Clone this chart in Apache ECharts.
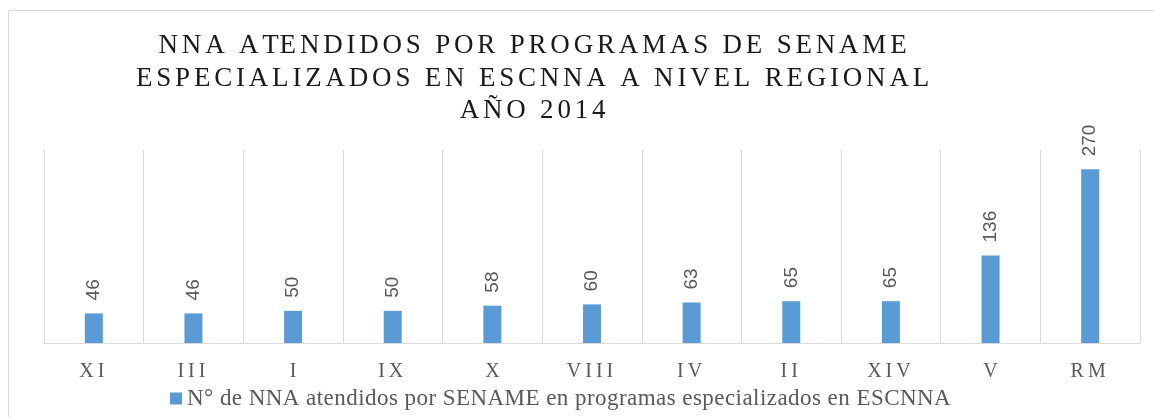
<!DOCTYPE html>
<html>
<head>
<meta charset="utf-8">
<script src="https://cdn.jsdelivr.net/npm/echarts/dist/echarts.min.js"></script>
<style>
  html, body { margin: 0; padding: 0; background: #fff; }
  #chart { width: 1154px; height: 417px; }
</style>
</head>
<body>
<div id="chart"></div>
<script>
// ---- data ----
const titleLines = [
  'NNA ATENDIDOS POR PROGRAMAS DE SENAME',
  'ESPECIALIZADOS EN ESCNNA A NIVEL REGIONAL',
  'AÑO 2014'
];
const categories = ['XI', 'III', 'I', 'IX', 'X', 'VIII', 'IV', 'II', 'XIV', 'V', 'RM'];
const seriesName = 'N° de NNA atendidos por SENAME en programas especializados en ESCNNA';
const values = [46, 46, 50, 50, 58, 60, 63, 65, 65, 136, 270];

// letter-spaced drawing for the title lines, category labels and legend text
(function () {
  const P = CanvasRenderingContext2D.prototype;
  const orig = P.fillText;
  function spacingFor(ctx, t) {
    if (titleLines.indexOf(t) >= 0) return 3.8;
    if (categories.indexOf(t) >= 0 && /Serif/.test(ctx.font)) return 4;
    if (t === seriesName) return 0.45;
    return 0;
  }
  P.fillText = function (t, x, y, m) {
    const s = String(t);
    const ls = spacingFor(this, s);
    if (!ls || s.length < 2) {
      return (m === undefined) ? orig.call(this, t, x, y) : orig.call(this, t, x, y, m);
    }
    const chars = Array.from(s);
    const align = this.textAlign;
    const total = this.measureText(s).width + ls * chars.length;
    let start = x;
    if (align === 'center') start = x - total / 2;
    else if (align === 'right' || align === 'end') start = x - total;
    this.textAlign = 'left';
    let prefix = '';
    for (let i = 0; i < chars.length; i++) {
      const off = this.measureText(prefix).width + ls * i;
      orig.call(this, chars[i], start + off, y);
      prefix += chars[i];
    }
    this.textAlign = align;
  };
})();

const SERIF = 'Liberation Serif';
const chart = echarts.init(document.getElementById('chart'), null, { renderer: 'canvas' });
chart.setOption({
  animation: false,
  backgroundColor: '#ffffff',
  graphic: [{
    type: 'rect',
    silent: true,
    shape: { x: 8.5, y: 10.5, width: 1400, height: 600 },
    style: { fill: 'none', stroke: '#d9d9d9', lineWidth: 1 }
  }],
  title: {
    text: titleLines.join('\n'),
    left: 529.5,
    top: 25,
    textAlign: 'center',
    textStyle: {
      fontFamily: SERIF,
      fontSize: 27,
      fontWeight: 'normal',
      color: '#1a1a1a',
      lineHeight: 32.5
    }
  },
  legend: {
    data: [seriesName],
    left: 165,
    top: 382,
    icon: 'rect',
    itemWidth: 12,
    itemHeight: 12,
    textStyle: {
      fontFamily: SERIF,
      fontSize: 23,
      color: '#595959'
    }
  },
  grid: { left: 44, right: 14, top: 150, bottom: 74, containLabel: false },
  xAxis: {
    type: 'category',
    data: categories,
    axisLine: { lineStyle: { color: '#d9d9d9', width: 1 } },
    axisTick: { show: false },
    splitLine: { show: true, interval: 0, lineStyle: { color: '#d9d9d9', width: 1 } },
    axisLabel: {
      interval: 0,
      margin: 19,
      color: '#595959',
      fontFamily: SERIF,
      fontSize: 20
    }
  },
  yAxis: {
    type: 'value',
    min: 0,
    max: 300,
    show: false,
    splitLine: { show: false }
  },
  series: [{
    name: seriesName,
    type: 'bar',
    data: values,
    barWidth: 18,
    itemStyle: { color: '#5B9BD5' },
    label: {
      show: true,
      position: 'top',
      rotate: 90,
      align: 'left',
      verticalAlign: 'middle',
      distance: 13,
      color: '#595959',
      fontFamily: 'Liberation Sans',
      fontSize: 19
    }
  }]
});
</script>
</body>
</html>
